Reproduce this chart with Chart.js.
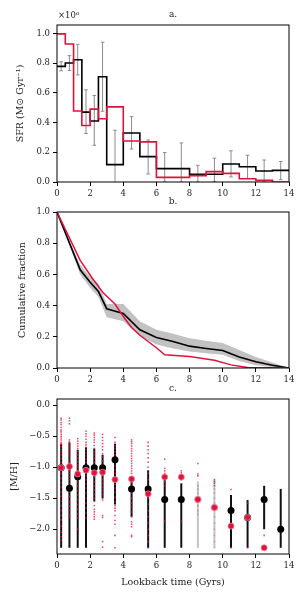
<!DOCTYPE html>
<html>
<head>
<meta charset="utf-8">
<script src="https://cdn.jsdelivr.net/npm/chart.js"></script>
<style>
html, body { margin: 0; padding: 0; background: #fff; }
#wrap { position: relative; width: 304px; height: 597px; }
.panel { position: absolute; left: 0; top: 0; width: 304px; height: 597px; }
</style>
</head>
<body>
<div id="wrap">
  <div class="panel"><canvas id="sfr"></canvas></div>
  <div class="panel"><canvas id="cum"></canvas></div>
  <div class="panel"><canvas id="met"></canvas></div>
</div>
<script>
// shared ticks
var xTicks = [0, 2, 4, 6, 8, 10, 12, 14];
var fracTicks = [0, 0.2, 0.4, 0.6, 0.8, 1.0];
var mhTicks = [0, -0.5, -1.0, -1.5, -2.0];

// a. star formation rate (units of 1e6), one value per bin
var binEdges = [0, 0.5, 1, 1.5, 2, 2.5, 3, 4, 5, 6, 7, 8, 9, 10, 11, 12, 13, 14];
var sfrBlack = [0.778, 0.80, 0.822, 0.47, 0.41, 0.708, 0.117, 0.33, 0.171, 0.09, 0.09, 0.052, 0.052, 0.121, 0.103, 0.074, 0.078];
var sfrRed = [0.996, 0.928, 0.478, 0.38, 0.49, 0.425, 0.505, 0.276, 0.27, 0.031, 0.031, 0.043, 0.07, 0.058, 0.022, 0.011, 0.0];
var errX = [0.25, 0.75, 1.25, 1.75, 2.25, 2.75, 3.5, 4.5, 5.5, 6.5, 7.5, 8.5, 9.5, 10.5, 11.5, 12.5, 13.5];
var errLo = [0.748, 0.75, 0.72, 0.326, 0.247, 0.476, -0.12, 0.222, 0.054, 0.0, 0.0, 0.0, 0.004, 0.034, 0.023, 0.0, 0.016];
var errHi = [0.809, 0.85, 0.926, 0.62, 0.582, 0.94, 0.348, 0.44, 0.283, 0.198, 0.263, 0.112, 0.16, 0.21, 0.18, 0.148, 0.138];

// b. cumulative fraction
var cumX = [0, 1.4, 2, 2.5, 3, 4, 5, 6, 7, 8, 9, 10, 11, 12, 13, 14];
var cumBlack = [1.0, 0.63, 0.55, 0.49, 0.38, 0.35, 0.245, 0.195, 0.17, 0.14, 0.125, 0.112, 0.07, 0.04, 0.018, 0];
var cumUpper = [1.0, 0.66, 0.585, 0.54, 0.41, 0.41, 0.30, 0.245, 0.22, 0.19, 0.175, 0.16, 0.115, 0.07, 0.035, 0];
var cumLower = [1.0, 0.60, 0.515, 0.455, 0.325, 0.30, 0.205, 0.15, 0.125, 0.105, 0.095, 0.085, 0.045, 0.018, 0.005, 0];
var redCumX = [0, 1.4, 2.1, 2.8, 3.5, 4, 4.5, 5, 6, 6.5, 8, 9.5, 10.5, 11.5, 14];
var redCum = [1.0, 0.69, 0.58, 0.48, 0.41, 0.33, 0.26, 0.21, 0.13, 0.085, 0.073, 0.05, 0.02, 0.003, 0];

// c. metallicity
var metX = [0.25, 0.75, 1.25, 1.75, 2.25, 2.75, 3.5, 4.5, 5.5, 6.5, 7.5, 10.5, 11.5, 12.5, 13.5];
var metMed = [-1.01, -1.34, -1.155, -1.01, -1.01, -1.01, -0.88, -1.35, -1.35, -1.52, -1.52, -1.70, -1.81, -1.52, -2.0];
var metLo = [-2.3, -2.3, -2.3, -2.3, -1.55, -1.5, -1.6, -1.8, -2.3, -2.3, -2.3, -2.3, -2.3, -2.0, -2.3];
var metHi = [-0.62, -0.6, -0.72, -0.68, -0.7, -0.8, -0.62, -1.2, -1.05, -1.2, -1.26, -1.45, -1.53, -1.3, -1.35];
var greyX = [8.5, 9.5];
var greyMed = [-1.52, -1.65];
var greyLo = [-2.3, -2.3];
var greyHi = [-1.23, -1.2];
var redX = [0.25, 0.75, 1.25, 1.75, 2.25, 2.75, 3.5, 4.5, 5.5, 6.5, 7.5, 8.5, 9.5, 10.5, 11.5, 12.5];
var redMed = [-1.01, -0.99, -1.11, -1.05, -1.09, -1.08, -1.2, -1.19, -1.43, -1.16, -1.16, -1.52, -1.65, -1.95, -1.81, -2.3];
var starCols = [0.25, 0.75, 1.25, 1.75, 2.25, 2.75, 3.5, 4.5, 5.5, 6.5, 7.5, 8.5, 9.5, 10.5, 11.5, 12.5];
var stars = [
  [-0.21, -0.24, -0.28, -0.31, -0.36, -0.4, -0.43, -0.47, -0.5, -0.53, -0.56, -0.6, -0.63, -0.67, -0.72, -0.76, -0.8, -0.86, -0.92, -0.97, -1.05, -1.1, -1.18, -1.25, -1.32, -1.4, -1.47, -1.55, -1.62, -1.7, -1.78, -1.85, -1.95, -2.05, -2.12, -2.18],
  [-0.21, -0.25, -0.3, -0.56, -0.59, -0.62, -0.65, -0.68, -0.71, -0.74, -0.77, -0.8, -0.84, -0.88, -0.92, -0.95, -0.98, -1.02, -1.06, -1.1, -1.15, -1.2, -1.26, -1.33, -1.4, -1.48, -1.56, -1.63, -1.7, -1.76, -1.8],
  [-0.54, -0.58, -0.62, -0.66, -0.7, -0.75, -0.8, -0.86, -0.91, -0.96, -1.0, -1.05, -1.17, -1.24, -1.3, -1.38, -1.45, -1.52, -1.6, -1.68, -1.75, -1.82, -2.0],
  [-0.42, -0.46, -0.5, -0.55, -0.6, -0.64, -0.68, -0.72, -0.77, -0.82, -0.87, -0.92, -0.97, -1.08, -1.14, -1.2, -1.27, -1.34, -1.42, -1.5, -1.58, -1.66, -1.74, -1.82],
  [-0.45, -0.48, -0.52, -0.56, -0.6, -0.65, -0.7, -0.75, -0.8, -0.86, -0.92, -0.98, -1.04, -1.16, -1.23, -1.3, -1.37, -1.44, -1.5, -1.55, -1.62, -1.68, -1.72, -1.76, -1.8, -1.84],
  [-0.47, -0.52, -0.57, -0.62, -0.67, -0.72, -0.78, -0.84, -0.9, -0.96, -1.02, -1.14, -1.2, -1.26, -1.32, -1.38, -1.44, -1.5, -1.53, -1.78, -1.81, -2.2, -2.29],
  [-0.52, -0.6, -0.66, -0.7, -0.75, -0.8, -0.86, -0.92, -0.98, -1.04, -1.1, -1.16, -1.28, -1.34, -1.4, -1.48, -1.56, -1.62, -1.66, -1.7, -1.78, -1.86, -1.92, -2.1, -2.3],
  [-0.56, -0.59, -0.62, -0.66, -0.7, -0.74, -0.78, -0.82, -0.86, -0.9, -0.94, -0.98, -1.02, -1.06, -1.1, -1.15, -1.25, -1.3, -1.36, -1.42, -1.5, -1.58, -1.65, -1.72, -1.8, -1.88, -1.92, -1.96, -2.1, -2.12],
  [-0.6, -0.66, -0.72, -0.78, -0.85, -0.92, -1.0, -1.1, -1.2, -1.3, -1.38, -1.5, -1.6, -1.7, -1.8, -1.9, -2.0, -2.1, -2.2, -2.3],
  [-0.87, -1.02, -1.06, -1.1, -1.24, -1.3, -1.87],
  [-1.06, -1.09, -1.12, -1.2, -1.87],
  [-0.94, -1.11, -1.14],
  [-1.2, -1.23, -1.26, -1.3],
  [-1.36, -2.3],
  [-1.58, -2.3],
  [-2.1]
];
var faintCols = [8.5, 9.5];
var faintStars = [
  [-1.3, -1.36, -1.42, -1.48, -1.56, -1.62, -1.7, -1.76],
  [-1.35, -1.42, -1.5, -1.58, -1.7, -1.8, -1.9, -2.0, -2.1, -2.2, -2.3]
];

var FONT = '"DejaVu Serif", serif';
var RED = '#dc143c';

function zip(xs, ys) {
  return xs.map(function (x, i) { return {x: x, y: ys[i]}; });
}
function steps(edges, vals) {
  return edges.map(function (e, i) { return {x: e, y: vals[Math.min(i, vals.length - 1)]}; });
}
function columns(cols, lists) {
  var out = [];
  cols.forEach(function (c, i) { lists[i].forEach(function (v) { out.push({x: c, y: v}); }); });
  return out;
}

function scalesFor(o) {
  var tickFont = {family: FONT, size: 8.5};
  var grid = {display: true, drawOnChartArea: false, drawTicks: true, tickLength: 4, color: '#000'};
  return {
    x: {
      type: 'linear', min: 0, max: 14,
      afterBuildTicks: function (s) { s.ticks = xTicks.map(function (v) { return {value: v}; }); },
      afterFit: function (s) { s.height = o.xHeight; },
      ticks: {font: tickFont, color: '#222', padding: 3, maxRotation: 0, callback: function (v) { return String(v); }},
      grid: grid,
      border: {display: false},
      title: o.xTitle ? {display: true, text: o.xTitle, color: '#222', font: {family: FONT, size: 9.5}, padding: {top: 0, bottom: 6}} : {display: false}
    },
    y: {
      type: 'linear', min: o.yMin, max: o.yMax,
      afterBuildTicks: function (s) { s.ticks = o.yTicks.map(function (v) { return {value: v}; }); },
      afterFit: function (s) { s.width = 57; },
      ticks: {font: tickFont, color: '#222', padding: 3, callback: o.fmt},
      grid: grid,
      border: {display: false},
      title: {display: true, text: o.yTitle, color: '#222', font: {family: FONT, size: 9.5}, padding: {top: o.yPad, bottom: 0}}
    }
  };
}

function frame(label, extra) {
  return {
    id: 'frame',
    afterDatasetsDraw: function (chart) {
      var ctx = chart.ctx, a = chart.chartArea;
      ctx.save();
      ctx.strokeStyle = '#000';
      ctx.lineWidth = 1;
      ctx.strokeRect(a.left, a.top, a.right - a.left, a.bottom - a.top);
      ctx.fillStyle = '#222';
      ctx.font = '9px ' + FONT;
      ctx.textBaseline = 'middle';
      ctx.textAlign = 'center';
      ctx.fillText(label, (a.left + a.right) / 2, a.top - 10);
      if (extra) {
        ctx.textAlign = 'left';
        ctx.font = '8.5px ' + FONT;
        ctx.fillText(extra, a.left + 1, a.top - 9);
      }
      ctx.restore();
    }
  };
}

function errorBars(groups) {
  return {
    id: 'errbars',
    beforeDatasetsDraw: function (chart) {
      var ctx = chart.ctx, a = chart.chartArea, x = chart.scales.x, y = chart.scales.y;
      ctx.save();
      ctx.beginPath();
      ctx.rect(a.left, a.top, a.right - a.left, a.bottom - a.top);
      ctx.clip();
      groups.forEach(function (g) {
        ctx.strokeStyle = g.color;
        ctx.lineWidth = g.width;
        g.xs.forEach(function (xv, i) {
          var px = x.getPixelForValue(xv);
          var p1 = y.getPixelForValue(g.lo[i]);
          var p2 = y.getPixelForValue(g.hi[i]);
          ctx.beginPath();
          ctx.moveTo(px, p1);
          ctx.lineTo(px, p2);
          if (g.cap) {
            ctx.moveTo(px - g.cap, p1); ctx.lineTo(px + g.cap, p1);
            ctx.moveTo(px - g.cap, p2); ctx.lineTo(px + g.cap, p2);
          }
          ctx.stroke();
        });
      });
      ctx.restore();
    }
  };
}

var base = {
  responsive: true,
  maintainAspectRatio: false,
  animation: false,
  devicePixelRatio: 1,
  events: [],
  plugins: {legend: {display: false}, tooltip: {enabled: false}, title: {display: false}}
};
function opts(extra) { return Object.assign({}, base, extra); }
var fmt1 = function (v) { return v.toFixed(1); };
var fmtMinus = function (v) { return (v < 0 ? '\u2212' : '') + Math.abs(v).toFixed(1); };

new Chart('sfr', {
  type: 'line',
  data: {
    datasets: [
      {data: steps(binEdges, sfrRed), stepped: true, borderColor: RED, borderWidth: 1.6, pointRadius: 0, fill: false},
      {data: steps(binEdges, sfrBlack), stepped: true, borderColor: '#000', borderWidth: 1.6, pointRadius: 0, fill: false}
    ]
  },
  options: opts({
    layout: {padding: {left: 0, right: 15, top: 25, bottom: 395}},
    scales: scalesFor({xHeight: 20, yMin: 0, yMax: 1.056, yTicks: fracTicks, fmt: fmt1, yTitle: 'SFR (M\u2299 Gyr\u207B\u00B9)', yPad: 15})
  }),
  plugins: [errorBars([{xs: errX, lo: errLo, hi: errHi, color: '#8c8c8c', width: 1, cap: 1.8}]), frame('a.', '\u00D710\u2076')]
});

new Chart('cum', {
  type: 'line',
  data: {
    datasets: [
      {data: zip(redCumX, redCum), borderColor: RED, borderWidth: 1.5, pointRadius: 0, fill: false},
      {data: zip(cumX, cumBlack), borderColor: '#000', borderWidth: 1.6, pointRadius: 0, fill: false},
      {data: zip(cumX, cumUpper), borderWidth: 0, borderColor: 'rgba(0,0,0,0)', pointRadius: 0, fill: '+1', backgroundColor: '#c2c2c2'},
      {data: zip(cumX, cumLower), borderWidth: 0, borderColor: 'rgba(0,0,0,0)', pointRadius: 0, fill: false}
    ]
  },
  options: opts({
    layout: {padding: {left: 0, right: 15, top: 212, bottom: 209}},
    scales: scalesFor({xHeight: 20, yMin: 0, yMax: 1.0, yTicks: fracTicks, fmt: fmt1, yTitle: 'Cumulative fraction', yPad: 17})
  }),
  plugins: [frame('b.')]
});

new Chart('met', {
  type: 'scatter',
  data: {
    datasets: [
      {data: zip(redX, redMed), pointStyle: 'circle', pointRadius: 3, backgroundColor: RED, borderColor: '#f07a92', borderWidth: 0.8},
      {data: zip(metX, metMed), pointStyle: 'circle', pointRadius: 3.5, backgroundColor: '#000', borderWidth: 0},
      {data: zip(greyX, greyMed), pointStyle: 'circle', pointRadius: 3.8, backgroundColor: '#c4c4c4', borderWidth: 0},
      {data: columns(starCols, stars), pointStyle: 'rect', pointRadius: 1.1, backgroundColor: 'rgba(220,20,60,0.75)', borderWidth: 0},
      {data: columns(faintCols, faintStars), pointStyle: 'rect', pointRadius: 1.1, backgroundColor: 'rgba(220,20,60,0.3)', borderWidth: 0}
    ]
  },
  options: opts({
    layout: {padding: {left: 0, right: 15, top: 399, bottom: 3}},
    scales: scalesFor({xHeight: 40, xTitle: 'Lookback time (Gyrs)', yMin: -2.4, yMax: 0.1, yTicks: mhTicks, fmt: fmtMinus, yTitle: '[M/H]', yPad: 9})
  }),
  plugins: [errorBars([
    {xs: metX, lo: metLo, hi: metHi, color: '#111', width: 2, cap: 0},
    {xs: greyX, lo: greyLo, hi: greyHi, color: '#c4c4c4', width: 2, cap: 0}
  ]), frame('c.')]
});
</script>
</body>
</html>
